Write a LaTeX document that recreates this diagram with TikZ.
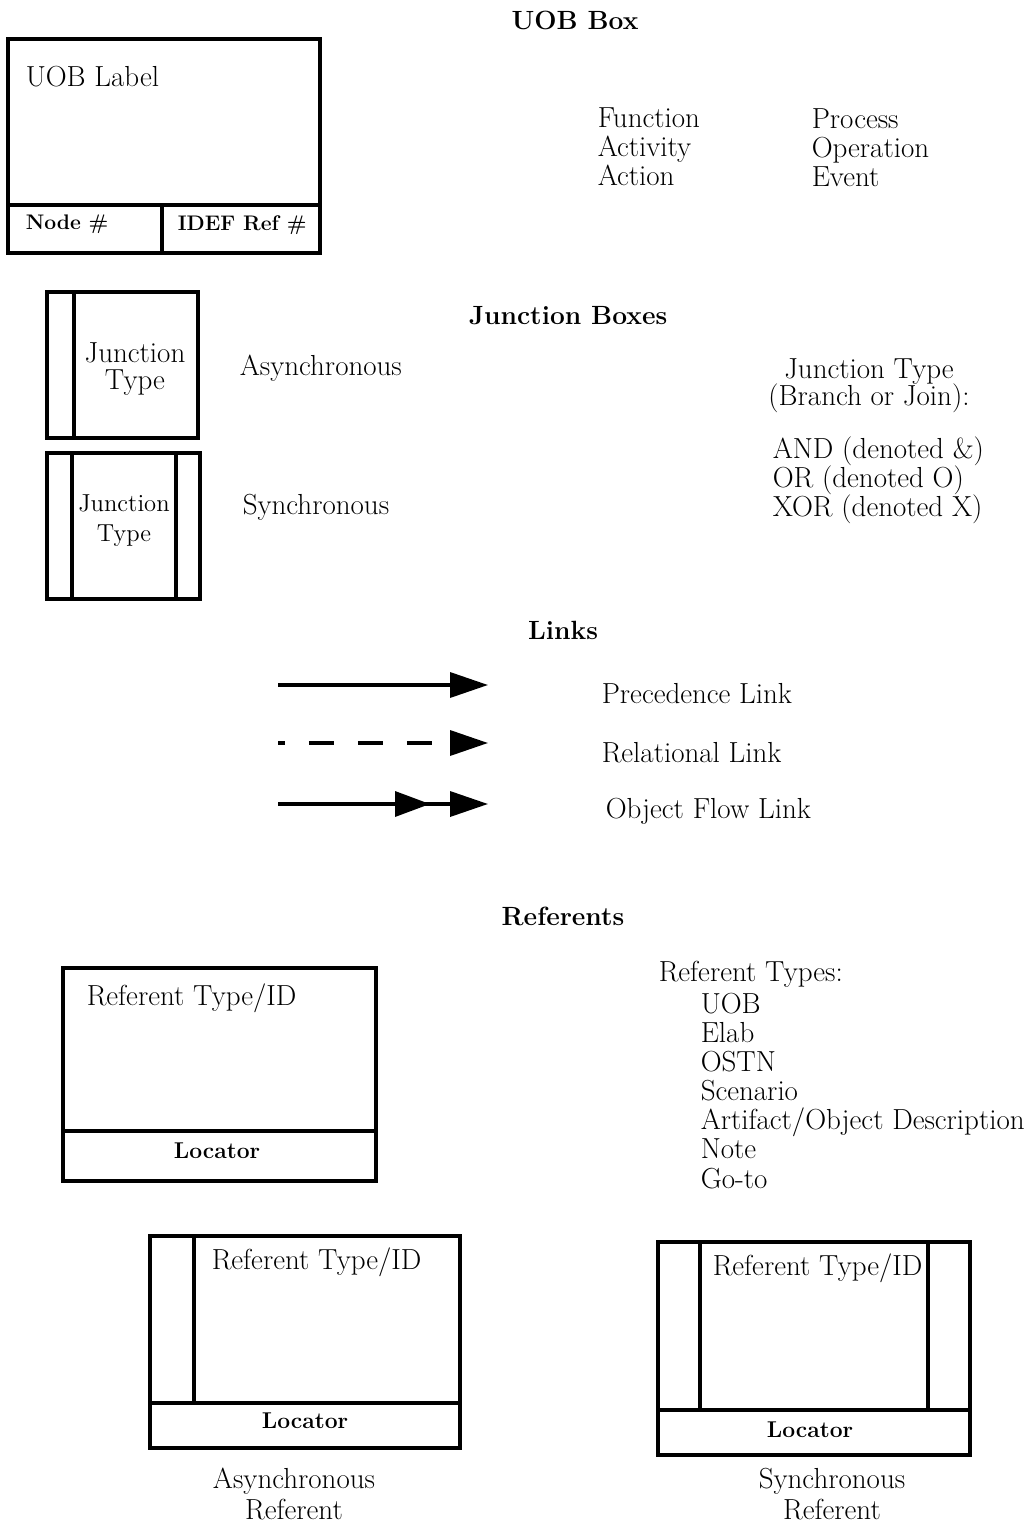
\documentclass[tikz,border=0pt]{standalone}
\usetikzlibrary{arrows.meta,positioning}

\begin{document}
\begin{tikzpicture}[x=0.02cm, y=-0.02cm, line width=2pt,
    txt/.style={font=\fontsize{16.5}{16.6}\selectfont, inner sep=0pt},
    small/.style={font=\fontsize{14}{16}\selectfont, inner sep=0pt},
    tag/.style={font=\fontsize{13}{15}\selectfont\bfseries, inner sep=0pt},
    cell/.style={font=\fontsize{12}{14}\selectfont\bfseries, inner sep=0pt},
    ttl/.style={font=\fontsize{15}{18}\selectfont\bfseries, inner sep=0pt},
    head/.style={-{Triangle[length=0.76cm, width=0.5cm]}}]
    \useasboundingbox (0,0) rectangle (1031,1525);

    % UOB box
    \node[ttl] (uobttl) at (575,20) {UOB Box};
    \draw (8,39) rectangle (320,253);
    \draw (8,205) -- (320,205);
    \draw (162,205) -- (162,253);
    \node[txt, anchor=west] (uoblbl) at (24,77) {UOB Label};
    \node[cell, anchor=west] (nodenum) at (24,224) {Node \#};
    \node[cell, anchor=west] (idefref) at (176,225) {IDEF Ref \#};
    \node[txt, anchor=north west, align=left] (uobkind1) at (596,106) {Function\\Activity\\Action};
    \node[txt, anchor=north west, align=left] (uobkind2) at (810,107) {Process\\Operation\\Event};

    % Junction boxes
    \node[ttl] (junttl) at (568,316) {Junction Boxes};
    \draw (47,292) rectangle (198,438);
    \draw (74,292) -- (74,438);
    \node[txt, align=center] (asyjun) at (135,369) {Junction\\[-1pt]Type};
    \node[txt, anchor=west] (asylbl) at (238,368) {Asynchronous};
    \draw (47,453) rectangle (200,599);
    \draw (72,453) -- (72,599);
    \draw (176,453) -- (176,599);
    \node[small, align=center] (synjun) at (124,521) {Junction\\[1pt]Type};
    \node[txt, anchor=west] (synlbl) at (241,507) {Synchronous};
    \node[txt, align=center] (juntype) at (869,386) {Junction Type\\[-1pt](Branch or Join):};
    \node[txt, anchor=north west, align=left] (junlist) at (771,435) {AND (denoted \&)\\OR (denoted O)\\XOR (denoted X)};

    % Links
    \node[ttl] (linkttl) at (563,630) {Links};
    \coordinate (prec0) at (278,685);
    \coordinate (prec1) at (488,685);
    \coordinate (rel0) at (278,743);
    \coordinate (rel1) at (488,743);
    \coordinate (obj0) at (278,804);
    \coordinate (objm) at (430,804);
    \coordinate (obj1) at (488,804);
    \draw[head] (prec0) -- (prec1);
    \draw[head, dash pattern=on 0.5cm off 0.48cm, dash phase=0.36cm] (rel0) -- (rel1);
    \draw[head] (obj0) -- (obj1);
    \draw[-{Triangle[length=0.7cm, width=0.5cm]}] (obj0) -- (objm);
    \node[txt, anchor=west] (preclbl) at (600,694) {Precedence Link};
    \node[txt, anchor=west] (rellbl) at (600,753) {Relational Link};
    \node[txt, anchor=west] (objlbl) at (604,811) {Object Flow Link};

    % Referents
    \node[ttl] (refttl) at (563,916) {Referents};
    \draw (63,968) rectangle (376,1181);
    \draw (63,1131) -- (376,1131);
    \node[txt, anchor=west] (refid) at (85,998) {Referent Type/ID};
    \node[tag] (refloc) at (217,1151) {Locator};
    \node[txt, anchor=west] (reftypes) at (657,974) {Referent Types:};
    \node[txt, anchor=north west, align=left] (reflist) at (699,991) {UOB\\Elab\\OSTN\\Scenario\\Artifact/Object Description\\Note\\Go-to};

    % Asynchronous referent
    \draw (150,1236) rectangle (460,1448);
    \draw (150,1403) -- (460,1403);
    \draw (194,1236) -- (194,1403);
    \node[txt, anchor=west] (asyid) at (210,1262) {Referent Type/ID};
    \node[tag] (asyloc) at (305,1421) {Locator};
    \node[txt, align=center] (asyref) at (294,1494) {Asynchronous\\[1.5pt]Referent};

    % Synchronous referent
    \draw (658,1242) rectangle (970,1455);
    \draw (658,1410) -- (970,1410);
    \draw (700,1242) -- (700,1410);
    \draw (928,1242) -- (928,1410);
    \node[txt, anchor=west] (synid) at (711,1268) {Referent Type/ID};
    \node[tag] (synloc) at (810,1430) {Locator};
    \node[txt, align=center] (synref) at (832,1494) {Synchronous\\[1pt]Referent};
\end{tikzpicture}
\end{document}
